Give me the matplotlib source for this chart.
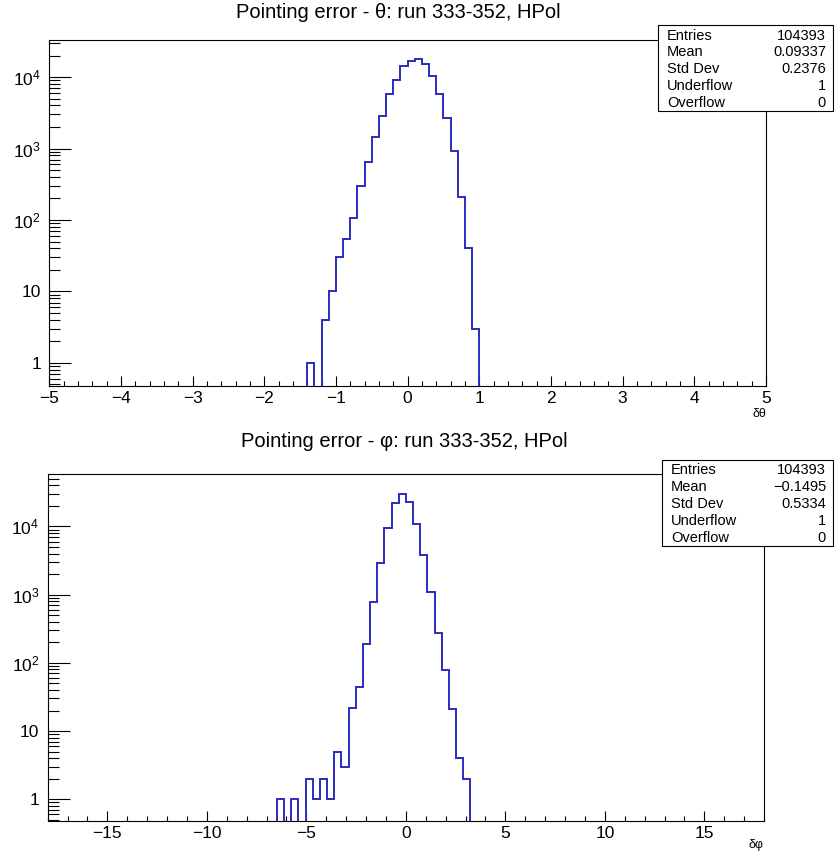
import numpy as np
import matplotlib.pyplot as plt
from matplotlib.patches import Rectangle
from matplotlib.ticker import FixedLocator, FixedFormatter, MultipleLocator, NullFormatter

plt.rcParams['font.family'] = ['Liberation Sans', 'DejaVu Sans']
plt.rcParams['mathtext.default'] = 'regular'

n_bins = 100
stat_names = ['Entries', 'Mean', 'Std Dev', 'Underflow', 'Overflow']

# theta: 100 bins on [-5, 5], counts starting at the first filled bin
theta_range = (-5, 5)
theta_first_edge = -1.4
theta_counts = [1, 0, 4, 10, 30, 55, 105, 297, 640, 1450, 2880, 5710, 9150,
                14100, 16700, 17700, 15000, 10500, 5710, 2640, 930, 210, 40, 3]
theta_stats = ['104393', '0.09337', '0.2376', '1', '0']
theta_title = 'Pointing error - \u03b8: run 333-352, HPol'

# phi: 100 bins on [-18, 18]
phi_range = (-18, 18)
phi_first_edge = -6.48
phi_counts = [1, 0, 1, 0, 2, 1, 2, 1, 5, 3, 22, 44, 189, 789, 2890, 9400,
              21900, 29600, 22600, 10900, 3830, 1080, 271, 79, 21, 4, 2]
phi_stats = ['104393', '\u22120.1495', '0.5334', '1', '0']
phi_title = 'Pointing error - \u03c6: run 333-352, HPol'

W, H = 834, 856
fig = plt.figure(figsize=(W / 100, H / 100), dpi=100)


def fx(x):
    return x / W


def fy(y):
    return 1 - y / H


def make_axes(x0, y0, x1, y1):
    return fig.add_axes([fx(x0), fy(y1), fx(x1) - fx(x0), fy(y0) - fy(y1)])


def draw_hist(ax, rng, first, counts, ylim, major, minor):
    lo, hi = rng
    edges = np.linspace(lo, hi, n_bins + 1)
    full = np.zeros(n_bins)
    start = int(round((first - lo) / (hi - lo) * n_bins))
    full[start:start + len(counts)] = counts
    full[full == 0] = 1e-3
    ax.stairs(full, edges, color='#2b2bc0', lw=1.4, baseline=None, zorder=2)
    ax.set_xlim(lo, hi)
    ax.set_yscale('log')
    ax.set_ylim(*ylim)
    ax.xaxis.set_major_locator(MultipleLocator(major))
    ax.xaxis.set_minor_locator(MultipleLocator(minor))
    ax.yaxis.set_major_locator(FixedLocator([1, 10, 100, 1000, 10000]))
    ax.yaxis.set_major_formatter(FixedFormatter(['1', '10', '$10^{2}$', '$10^{3}$', '$10^{4}$']))
    ax.yaxis.set_minor_locator(FixedLocator([m * 10.0 ** k for k in range(-1, 5) for m in range(2, 10)]))
    ax.yaxis.set_minor_formatter(NullFormatter())
    ax.tick_params(axis='both', which='both', direction='in', top=False, right=False,
                   width=0.8, labelsize=12.5, color='black')
    ax.tick_params(axis='x', which='major', length=7, pad=4)
    ax.tick_params(axis='x', which='minor', length=3.5)
    ax.tick_params(axis='y', which='major', length=16, pad=6)
    ax.tick_params(axis='y', which='minor', length=8)
    for s in ax.spines.values():
        s.set_linewidth(0.8)
        s.set_zorder(3)


def stats_box(x0, y0, x1, y1, values):
    fig.add_artist(Rectangle((fx(x0), fy(y1)), fx(x1) - fx(x0), fy(y0) - fy(y1),
                             transform=fig.transFigure, facecolor='white',
                             edgecolor='black', lw=0.8, zorder=5))
    for i, (name, val) in enumerate(zip(stat_names, values)):
        yy = y0 + 10.5 + 16.8 * i
        fig.text(fx(x0 + 9), fy(yy), name, fontsize=10.5, ha='left', va='center', zorder=6)
        fig.text(fx(x1 - 7), fy(yy), val, fontsize=10.5, ha='right', va='center', zorder=6)


ax1 = make_axes(49.3, 40, 766, 385.7)
draw_hist(ax1, theta_range, theta_first_edge, theta_counts, (0.48, 33000), 1, 0.2)
fig.text(fx(398), fy(17.5), theta_title, fontsize=14.5, ha='center', va='baseline')
fig.text(fx(766), fy(417), '\u03b4\u03b8', fontsize=9, ha='right', va='baseline')
stats_box(658, 25, 833, 111, theta_stats)

ax2 = make_axes(47.7, 474.3, 764, 820.7)
draw_hist(ax2, phi_range, phi_first_edge, phi_counts, (0.485, 58000), 5, 1)
fig.text(fx(404), fy(447), phi_title, fontsize=14.5, ha='center', va='baseline')
fig.text(fx(763), fy(848), '\u03b4\u03c6', fontsize=9, ha='right', va='baseline')
stats_box(662, 460, 833, 546, phi_stats)

fig.savefig('out.png', dpi=100)
